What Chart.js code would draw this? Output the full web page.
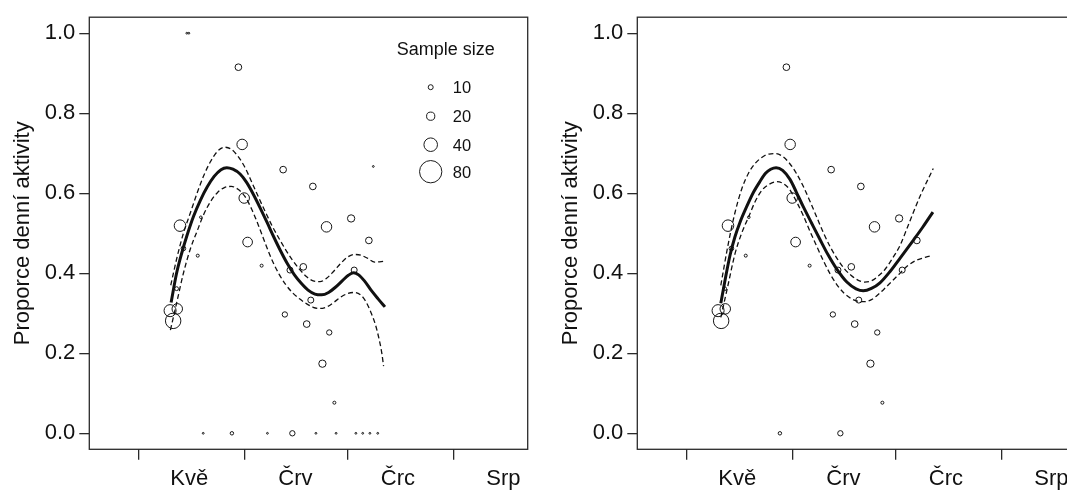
<!DOCTYPE html>
<html><head><meta charset="utf-8">
<script src="https://cdn.jsdelivr.net/npm/chart.js@4.4.1/dist/chart.umd.min.js"></script>
<style>
html,body{margin:0;padding:0;background:#fff;overflow:hidden;width:1067px;height:490px;}
.wrap{position:absolute;top:0;width:540px;height:490px;}
</style></head><body>
<div class="wrap" style="left:0"><canvas id="c1" width="540" height="490"></canvas></div>
<div class="wrap" style="left:548px"><canvas id="c2" width="540" height="490"></canvas></div>
<script>
// ---- axis definitions (day of year) ----
const monthTicks    = [121, 152, 182, 213];
const monthLabelPos = [135.7, 166.8, 196.8, 227.7];
const monthLabels   = ['Kvě', 'Črv', 'Črc', 'Srp'];
const yTicks        = [0, 0.2, 0.4, 0.6, 0.8, 1.0];
const yTitle        = 'Proporce denní aktivity';

// ---- observations: day of year, proportion of day activity, sample size ----
const obsDay  = [135.0,135.6,150.1,151.2,163.2,171.9,189.6,151.8,133.0,175.9,183.1,188.3,152.8,139.1,134.0,138.2,156.9,165.2,169.1,184.0,171.3,163.7,170.1,176.7,174.7,178.2,130.1,132.2,131.0,132.0,139.8,148.2,158.6,165.9,172.8,178.7,184.5,186.5,188.6,190.9];
const obsProp = [1.0,1.0,0.915,0.722,0.659,0.617,0.667,0.588,0.519,0.516,0.537,0.482,0.478,0.540,0.462,0.444,0.419,0.408,0.416,0.408,0.333,0.297,0.273,0.252,0.174,0.0765,0.3065,0.311,0.281,0.3615,0,0,0,0,0,0,0,0,0,0];
const obsN    = [1,1,15,28,15,15,1,28,32,28,17,15,25,4,9,5,5,13,15,13,13,11,15,11,17,5,34,28,48,7,1,6,1,11,1,1,1,1,1,1];
const legendN = [10, 20, 40, 80];
const legendTitle = 'Sample size';
const minNRight = 3;   // right panel shows only observations with n >= 3

// ---- left panel fitted curve and confidence band ----
const fitDayL = [130.4,132.0,133.5,135.0,137.0,139.0,141.0,143.0,145.0,146.7,148.5,150.6,152.5,154.5,156.5,158.5,160.5,162.5,164.5,166.5,168.5,170.5,172.5,174.5,176.5,178.5,180.5,182.3,183.8,185.3,187.0,189.0,191.0,193.0];
const fitL    = [0.327,0.400,0.450,0.493,0.543,0.583,0.616,0.642,0.659,0.664,0.660,0.648,0.627,0.597,0.563,0.527,0.490,0.455,0.423,0.396,0.375,0.358,0.348,0.346,0.352,0.365,0.381,0.395,0.401,0.396,0.381,0.357,0.336,0.316];
const upDayL  = [130.3,132.0,134.0,136.0,138.0,140.0,142.0,144.0,146.0,148.0,150.0,152.0,154.0,156.0,158.0,160.0,162.0,164.0,166.0,168.0,170.0,172.0,174.0,176.0,178.0,180.0,182.0,184.0,186.0,188.0,190.0,192.9];
const upL     = [0.370,0.435,0.500,0.550,0.600,0.645,0.680,0.705,0.715,0.710,0.692,0.665,0.628,0.590,0.553,0.518,0.487,0.458,0.432,0.410,0.392,0.381,0.379,0.388,0.405,0.424,0.440,0.447,0.445,0.437,0.428,0.430];
const loDayL  = [130.2,132.0,134.0,136.0,138.0,140.0,142.0,144.0,146.0,148.0,150.0,152.0,154.0,156.0,158.0,160.0,162.0,164.0,166.0,168.0,170.0,172.0,174.0,176.0,178.0,180.0,182.0,184.0,186.0,187.5,189.0,190.2,191.3,192.1,192.6];
const loL     = [0.258,0.325,0.400,0.460,0.505,0.548,0.580,0.602,0.614,0.617,0.610,0.592,0.560,0.519,0.474,0.432,0.398,0.371,0.351,0.336,0.324,0.315,0.312,0.316,0.327,0.340,0.349,0.352,0.345,0.328,0.300,0.272,0.235,0.200,0.168];

// ---- right panel fitted curve and confidence band ----
const fitDayR = [130.9,132.3,133.6,135.0,136.5,138.5,140.5,142.4,144.0,145.5,147.1,149.0,151.2,153.0,155.0,157.5,159.9,162.3,164.8,167.8,170.5,172.6,175.0,177.5,180.5,183.4,187.3,190.0,193.0];
const fitR    = [0.325,0.390,0.445,0.490,0.527,0.567,0.603,0.630,0.650,0.660,0.664,0.657,0.634,0.603,0.567,0.525,0.485,0.446,0.411,0.378,0.361,0.356,0.362,0.376,0.405,0.438,0.483,0.515,0.553];
const upDayR  = [130.9,133.0,135.0,137.0,139.0,141.0,143.0,145.0,147.0,149.0,151.0,153.0,155.0,157.0,159.0,161.0,163.0,165.0,167.0,169.0,171.0,173.0,175.0,177.0,179.0,181.0,183.4,186.0,189.2,193.1];
const upR     = [0.370,0.470,0.550,0.610,0.650,0.675,0.690,0.698,0.699,0.692,0.675,0.650,0.618,0.580,0.540,0.500,0.465,0.436,0.412,0.395,0.383,0.378,0.381,0.393,0.410,0.435,0.470,0.525,0.592,0.662];
const loDayR  = [130.9,133.0,135.0,137.0,139.0,141.0,143.0,145.0,147.3,149.0,151.0,153.0,155.0,157.0,159.0,161.0,163.0,165.0,167.0,169.0,171.0,173.0,175.0,177.0,179.0,181.0,183.0,185.5,188.0,190.0,192.1];
const loR     = [0.290,0.370,0.447,0.500,0.540,0.580,0.608,0.622,0.629,0.625,0.610,0.580,0.545,0.505,0.467,0.430,0.397,0.370,0.350,0.337,0.330,0.329,0.334,0.347,0.363,0.380,0.397,0.418,0.432,0.438,0.443];

// symbol size for a given sample size
function radiusOf(n){ return Math.max(0.9, 0.476*Math.pow(n,0.72)); }

const FONT = "'Liberation Sans', Arial, sans-serif";
const INK = '#111';
Chart.defaults.font.family = FONT;
Chart.defaults.color = INK;

function pts(xs, ys){ return xs.map((x,i)=>({x:x, y:ys[i]})); }

const boxPlugin = {
  id:'box',
  afterDraw(chart){
    const a = chart.chartArea, c = chart.ctx;
    c.save(); c.strokeStyle = '#2a2a2a'; c.lineWidth = 1.3;
    c.strokeRect(a.left, a.top, a.right-a.left, a.bottom-a.top);
    c.restore();
  }
};

const sizeLegend = {
  id:'sizeLegend',
  afterDraw(chart, args, opts){
    if(!opts.show) return;
    const a = chart.chartArea, c = chart.ctx;
    c.save();
    c.fillStyle = INK; c.strokeStyle = '#1a1a1a'; c.lineWidth = 1;
    c.font = '18px ' + FONT; c.textAlign = 'center'; c.textBaseline = 'middle';
    c.fillText(legendTitle, a.right - 82, a.top + 33);
    c.font = '16.5px ' + FONT; c.textAlign = 'left';
    const rowY = [70, 99, 127.5, 154.5];
    legendN.forEach((n,i)=>{
      c.beginPath(); c.arc(a.right - 97, a.top + rowY[i], radiusOf(n), 0, Math.PI*2); c.stroke();
      c.fillText(String(n), a.right - 75, a.top + rowY[i] + 1.5);
    });
    c.restore();
  }
};

function makeChart(id, obsIdx, fd, fv, ud, uv, ld, lv, showLegend){
  const lineBase = {type:'line', borderColor:'#111', pointRadius:0, fill:false, cubicInterpolationMode:'monotone', order:1};
  const ptsData = obsIdx.map(i=>({x:obsDay[i], y:obsProp[i]}));
  const ptsN = obsIdx.map(i=>obsN[i]);
  return new Chart(document.getElementById(id), {
    type:'scatter',
    data:{ datasets:[
      {type:'scatter', data:ptsData, pointRadius:(ctx)=>radiusOf(ptsN[ctx.dataIndex]), pointBorderWidth:1,
        pointBackgroundColor:'rgba(0,0,0,0)', pointBorderColor:'#151515', order:2},
      Object.assign({data:pts(fd,fv), borderWidth:3}, lineBase),
      Object.assign({data:pts(ud,uv), borderWidth:1.3, borderDash:[5,3]}, lineBase),
      Object.assign({data:pts(ld,lv), borderWidth:1.3, borderDash:[5,3]}, lineBase)
    ]},
    options:{
      responsive:false, animation:false, events:[],
      layout:{padding:{left:0, top:11.7, right:12.3, bottom:0}},
      plugins:{legend:{display:false}, tooltip:{enabled:false}, sizeLegend:{show:showLegend}},
      scales:{
        x:{type:'linear', min:106.45, max:234.8,
          afterBuildTicks(s){ s.ticks = monthTicks.concat(monthLabelPos).sort((a,b)=>a-b).map(v=>({value:v})); },
          afterFit(s){ s.height = 40.7; },
          ticks:{autoSkip:false, maxRotation:0, padding:6, font:{size:22}, color:INK,
            callback(v){ const k = monthLabelPos.indexOf(v); return k>=0 ? monthLabels[k] : ''; }},
          grid:{drawOnChartArea:false, drawTicks:true, tickLength:10.5, lineWidth:1.3,
            color:(ctx)=> (ctx.tick && monthTicks.includes(ctx.tick.value)) ? '#2a2a2a' : 'rgba(0,0,0,0)'},
          border:{display:false}
        },
        y:{type:'linear', min:-0.04, max:1.04,
          afterBuildTicks(s){ s.ticks = yTicks.map(v=>({value:v})); },
          afterFit(s){ s.width = 89.3; },
          ticks:{padding:4, font:{size:22}, color:INK, callback:(v)=>Number(v).toFixed(1)},
          grid:{drawOnChartArea:false, drawTicks:true, tickLength:10, lineWidth:1.3, color:'#2a2a2a'},
          border:{display:false},
          title:{display:true, text:yTitle, font:{size:22}, color:INK, padding:{top:10, bottom:0}}
        }
      }
    },
    plugins:[boxPlugin, sizeLegend]
  });
}

const allIdx = obsDay.map((_,i)=>i);
const rightIdx = allIdx.filter(i=>obsN[i] >= minNRight);
makeChart('c1', allIdx, fitDayL, fitL, upDayL, upL, loDayL, loL, true);
makeChart('c2', rightIdx, fitDayR, fitR, upDayR, upR, loDayR, loR, false);
</script>
</body></html>
